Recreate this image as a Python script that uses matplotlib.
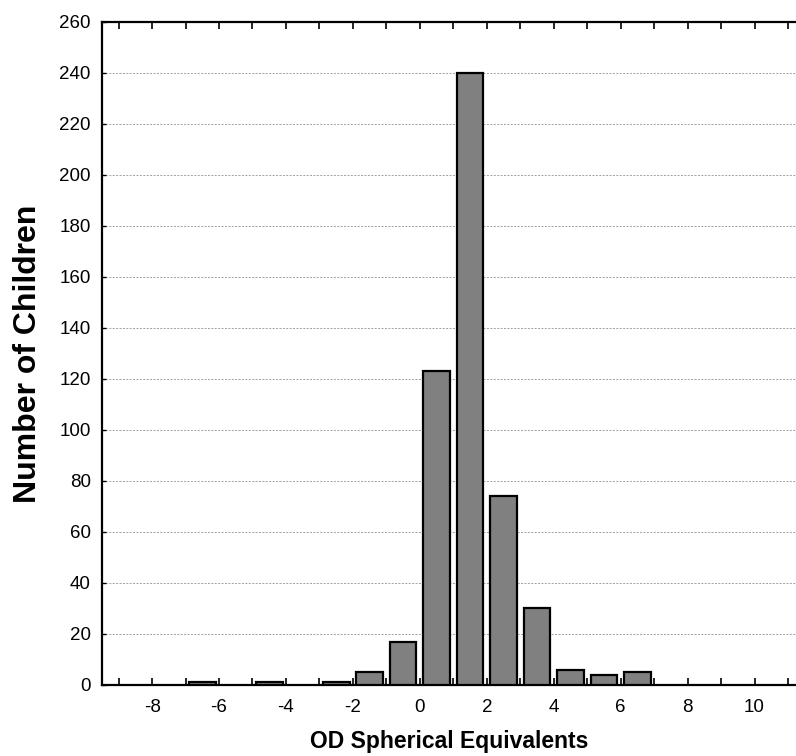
"""Histogram of OD spherical equivalents."""

import matplotlib
matplotlib.use('Agg')
import matplotlib.pyplot as plt
from matplotlib.ticker import MultipleLocator


# bin centres (dioptres) and number of children per bin
bin_centres = [-6.5, -4.5, -2.5, -1.5, -0.5, 0.5, 1.5, 2.5, 3.5, 4.5, 5.5, 6.5]
counts = [1, 1, 1, 5, 17, 123, 240, 74, 30, 6, 4, 5]

x_labels = ['-8', '-6', '-4', '-2', '0', '2', '4', '6', '8', '10']
x_label_pos = [-8, -6, -4, -2, 0, 2, 4, 6, 8, 10]
y_ticks = list(range(0, 261, 20))

plt.rcParams.update({
    'font.family': ['Liberation Sans', 'DejaVu Sans'],
    'font.size': 13.5,
})

fig = plt.figure(figsize=(7.96, 7.56), dpi=100)
ax = fig.add_axes([0.128, 0.094, 0.872, 0.877])

ax.bar(bin_centres, counts, width=0.8, color='#808080',
       edgecolor='black', linewidth=1.6, zorder=3)

ax.set_xlim(-9.5, 11.24)
ax.set_ylim(0, 260)

ax.set_xticks(x_label_pos)
ax.set_xticklabels(x_labels)
ax.xaxis.set_minor_locator(MultipleLocator(1))
ax.set_yticks(y_ticks)

ax.tick_params(axis='x', which='both', direction='in', top=True,
               length=5, width=1.2, pad=10, labelsize=13.5)
ax.tick_params(axis='y', direction='in', length=3, width=1.0,
               pad=8, labelsize=13.5)

for side in ('left', 'bottom', 'top'):
    ax.spines[side].set_linewidth(1.6)
ax.spines['right'].set_visible(False)

ax.grid(True, axis='y', linestyle=(0, (2, 1.5)), color='#a0a0a0',
        linewidth=0.7, zorder=0)
ax.set_axisbelow(True)

ax.set_xlabel('OD Spherical Equivalents', fontsize=16.5,
              fontweight='bold', labelpad=10)
ax.set_ylabel('Number of Children', fontsize=23,
              fontweight='bold', labelpad=12)

fig.savefig('out.png', dpi=100)
